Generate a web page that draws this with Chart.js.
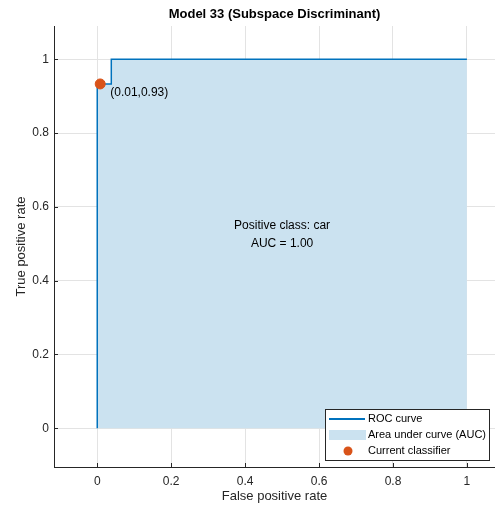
<!DOCTYPE html>
<html><head><meta charset="utf-8">
<script src="https://cdn.jsdelivr.net/npm/chart.js@4.4.1/dist/chart.umd.min.js"></script>
<style>html,body{margin:0;padding:0;background:#fff}#wrap{width:495px;height:510px}</style>
</head><body><div id="wrap"><canvas id="c" width="495" height="510"></canvas></div>
<script>
const rocFPR = [0, 0, 0.038, 0.038, 1];
const rocTPR = [0, 0.933, 0.933, 1, 1];
const currentFPR = [0.008];
const currentTPR = [0.933];
const xTicks = [0, 0.2, 0.4, 0.6, 0.8, 1];
const yTicks = [0, 0.2, 0.4, 0.6, 0.8, 1];
const titleText = 'Model 33 (Subspace Discriminant)';
const annotText = '(0.01,0.93)';
const centerLines = ['Positive class: car', 'AUC = 1.00'];
const legendLabels = ['ROC curve', 'Area under curve (AUC)', 'Current classifier'];

const FONT = '"Liberation Sans", Arial, Helvetica, sans-serif';
const TXT = '#262626';
const LINE = '#0072BD';
const AREA = 'rgb(203,226,240)';
const DOT = '#D95319';

const overlay = {
  id: 'overlay',
  afterDatasetsDraw(chart) {
    const ctx = chart.ctx, xs = chart.scales.x, ys = chart.scales.y, a = chart.chartArea;
    ctx.save();
    // title centred over plot area
    ctx.fillStyle = '#000'; ctx.font = 'bold 13px ' + FONT;
    ctx.textAlign = 'center'; ctx.textBaseline = 'middle';
    ctx.fillText(titleText, (a.left + a.right) / 2, 14);
    // inward ticks
    ctx.strokeStyle = TXT; ctx.lineWidth = 1;
    xTicks.forEach(v => { const px = Math.round(xs.getPixelForValue(v)) + 0.5;
      ctx.beginPath(); ctx.moveTo(px, a.bottom); ctx.lineTo(px, a.bottom - 4); ctx.stroke(); });
    yTicks.forEach(v => { const py = Math.round(ys.getPixelForValue(v)) + 0.5;
      ctx.beginPath(); ctx.moveTo(a.left, py); ctx.lineTo(a.left + 4, py); ctx.stroke(); });
    // annotations
    ctx.fillStyle = '#000'; ctx.font = '12px ' + FONT; ctx.textBaseline = 'middle';
    ctx.textAlign = 'left';
    ctx.fillText(annotText, xs.getPixelForValue(currentFPR[0]) + 10, ys.getPixelForValue(currentTPR[0]) + 9);
    ctx.textAlign = 'center';
    ctx.fillText(centerLines[0], xs.getPixelForValue(0.5), ys.getPixelForValue(0.55));
    ctx.fillText(centerLines[1], xs.getPixelForValue(0.5), ys.getPixelForValue(0.5));
    // legend
    const lx = 325.5, ly = 409.5, lw = 164, lh = 51;
    ctx.fillStyle = '#fff'; ctx.fillRect(lx, ly, lw, lh);
    ctx.strokeStyle = TXT; ctx.lineWidth = 1; ctx.strokeRect(lx, ly, lw, lh);
    ctx.strokeStyle = LINE; ctx.lineWidth = 2;
    ctx.beginPath(); ctx.moveTo(329, 419); ctx.lineTo(365, 419); ctx.stroke();
    ctx.fillStyle = AREA; ctx.fillRect(329, 430, 37, 10);
    ctx.fillStyle = DOT; ctx.beginPath(); ctx.arc(348, 451, 4.5, 0, Math.PI * 2); ctx.fill();
    ctx.fillStyle = '#000'; ctx.textAlign = 'left'; ctx.font = '11px ' + FONT;
    ctx.fillText(legendLabels[0], 368, 419);
    ctx.fillText(legendLabels[1], 368, 435);
    ctx.fillText(legendLabels[2], 368, 451);
    ctx.restore();
  }
};

new Chart(document.getElementById('c'), {
  type: 'scatter',
  data: {
    datasets: [
      { label: 'Current classifier', data: currentFPR.map((x, i) => ({x, y: currentTPR[i]})),
        backgroundColor: DOT, borderColor: DOT, pointRadius: 5, pointHoverRadius: 5, order: 0 },
      { label: 'ROC curve', data: rocFPR.map((x, i) => ({x, y: rocTPR[i]})),
        showLine: true, borderColor: LINE, borderWidth: 1.5, pointRadius: 0,
        fill: {value: 0}, backgroundColor: AREA, tension: 0, order: 1 }
    ]
  },
  options: {
    responsive: false, animation: false, events: [],
    layout: { autoPadding: false, padding: { left: 0, right: 0, top: 26, bottom: 0 } },
    plugins: {
      legend: { display: false }, tooltip: { enabled: false },
      title: { display: false },
      filler: { propagate: false }
    },
    scales: {
      x: { type: 'linear', min: -0.117, max: 1.076,
        afterBuildTicks: s => { s.ticks = xTicks.map(v => ({value: v})); },
        afterFit: s => { s.height = 43; s.paddingLeft = 0; s.paddingRight = 0; },
        grid: { color: '#e3e3e3', drawTicks: false },
        border: { color: TXT, width: 1 },
        ticks: { color: TXT, font: { family: FONT, size: 12 }, padding: 7, maxRotation: 0,
          callback: v => String(v) },
        title: { display: true, text: 'False positive rate', color: TXT,
          font: { family: FONT, size: 13 }, padding: { top: 0, bottom: 6 } } },
      y: { type: 'linear', min: -0.105, max: 1.09,
        afterBuildTicks: s => { s.ticks = yTicks.map(v => ({value: v})); },
        afterFit: s => { s.width = 54; s.paddingTop = 0; s.paddingBottom = 0; },
        grid: { color: '#e3e3e3', drawTicks: false },
        border: { color: TXT, width: 1 },
        ticks: { color: TXT, font: { family: FONT, size: 12 }, padding: 5,
          callback: v => String(v) },
        title: { display: true, text: 'True positive rate', color: TXT,
          font: { family: FONT, size: 13 }, padding: { top: 14, bottom: 0 } } }
    }
  },
  plugins: [overlay]
});
</script></body></html>
